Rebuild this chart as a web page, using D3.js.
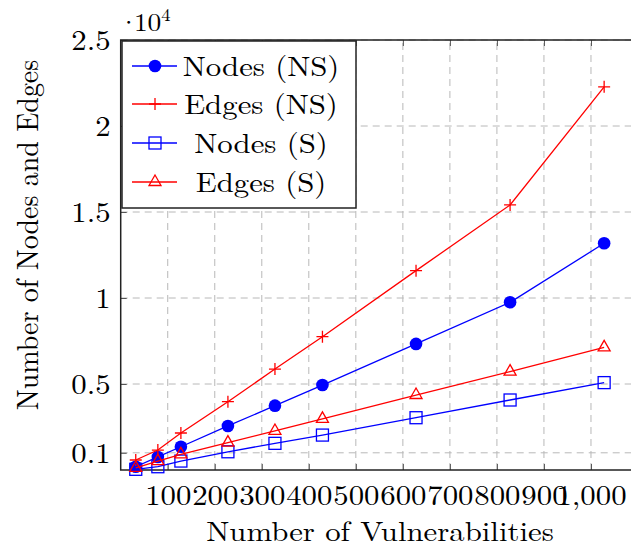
<!DOCTYPE html>
<html>
<head>
<meta charset="utf-8">
<script src="https://cdn.jsdelivr.net/npm/d3@7"></script>
<style>
  body { margin: 0; background: #fff; }
</style>
</head>
<body>
<svg id="chart" width="631" height="550"></svg>
<script>
// data
const vulns   = [32, 79, 128, 228, 328, 429, 628, 828, 1028];
const nodesNS = [190, 760, 1350, 2560, 3740, 4940, 7330, 9750, 13180];
const edgesNS = [580, 1160, 2150, 3970, 5870, 7750, 11590, 15410, 22280];
const nodesS  = [40, 190, 520, 1060, 1550, 2030, 3040, 4070, 5080];
const edgesS  = [120, 520, 910, 1590, 2270, 2970, 4360, 5720, 7130];

const xTicks = [100, 200, 300, 400, 500, 600, 700, 800, 900, 1000];
const xTickLabels = ['100', '200', '300', '400', '500', '600', '700', '800', '900', '1,000'];
const yTicks = [1000, 5000, 10000, 15000, 20000, 25000];
const yTickLabels = ['0.1', '0.5', '1', '1.5', '2', '2.5'];

const seriesNames = ['Nodes (NS)', 'Edges (NS)', 'Nodes (S)', 'Edges (S)'];
const seriesValues = [nodesNS, edgesNS, nodesS, edgesS];
const seriesColors = ['#0000ff', '#ff0000', '#0000ff', '#ff0000'];
const seriesMarks = ['circle', 'plus', 'square', 'triangle'];

const FONT = '"Latin Modern Roman", "Liberation Serif", serif';
const FS = 28;        // font size
const SX = 1.1;       // the reference is a bit wider than tall

const svg = d3.select('#chart');
const pLeft = 120.7, pRight = 638, pTop = 40, pBottom = 470;

const x = d3.scaleLinear().domain([0, 1100]).range([pLeft, pRight]);
const y = d3.scaleLinear().domain([0, 25000]).range([pBottom, pTop]);

// grid
const grid = svg.append('g').attr('stroke', '#b8b8b8').attr('stroke-width', 1)
  .attr('stroke-dasharray', '7,5').attr('fill', 'none');
grid.selectAll('.vg').data(xTicks).join('line')
  .attr('x1', d => x(d)).attr('x2', d => x(d)).attr('y1', pBottom).attr('y2', pTop);
grid.selectAll('.hg').data(yTicks).join('line')
  .attr('y1', d => y(d)).attr('y2', d => y(d)).attr('x1', pLeft).attr('x2', pRight);

// axes with inward ticks on all sides
const tickLen = 6;
const axisG = svg.append('g');
const xBottom = axisG.append('g').attr('transform', `translate(0,${pBottom})`)
  .call(d3.axisBottom(x).tickValues(xTicks).tickSize(-tickLen).tickFormat((d, i) => xTickLabels[i]));
axisG.append('g').attr('transform', `translate(0,${pTop})`)
  .call(d3.axisTop(x).tickValues(xTicks).tickSize(-tickLen).tickFormat(''));
const yLeft = axisG.append('g').attr('transform', `translate(${pLeft},0)`)
  .call(d3.axisLeft(y).tickValues(yTicks).tickSize(-tickLen).tickFormat((d, i) => yTickLabels[i]));
axisG.append('g').attr('transform', `translate(${pRight},0)`)
  .call(d3.axisRight(y).tickValues(yTicks).tickSize(-tickLen).tickFormat(''));

axisG.selectAll('.domain').remove();
axisG.selectAll('g').attr('font-family', FONT);
axisG.selectAll('.tick line').attr('stroke', '#555').attr('stroke-width', 1);
xBottom.selectAll('text').attr('font-size', FS).attr('y', 35).attr('dy', 0)
  .attr('transform', `scale(${SX},1)`)
  .attr('font-family', FONT).attr('fill', '#000');
yLeft.selectAll('text').attr('font-size', FS).attr('x', -10 / SX).attr('dy', '0.34em')
  .attr('transform', `scale(${SX},1)`)
  .attr('font-family', FONT).attr('fill', '#000');

svg.append('rect').attr('x', pLeft).attr('y', pTop)
  .attr('width', pRight - pLeft).attr('height', pBottom - pTop)
  .attr('fill', 'none').attr('stroke', '#222').attr('stroke-width', 1.5);

// marker drawing
function drawMark(g, kind, color) {
  if (kind === 'circle') {
    g.append('circle').attr('r', 6.3).attr('fill', color);
  } else if (kind === 'plus') {
    g.append('path').attr('d', 'M-6,0H6M0,-6V6').attr('stroke', color)
      .attr('stroke-width', 1.3).attr('fill', 'none');
  } else if (kind === 'square') {
    g.append('rect').attr('x', -6).attr('y', -6).attr('width', 12).attr('height', 12)
      .attr('stroke', color).attr('stroke-width', 1.3).attr('fill', 'none');
  } else {
    g.append('path').attr('d', 'M0,-7L6,3.5L-6,3.5Z').attr('stroke', color)
      .attr('stroke-width', 1.3).attr('fill', 'none');
  }
}

const line = d3.line().x(d => x(d[0])).y(d => y(d[1]));

seriesValues.forEach((vals, si) => {
  const pts = vulns.map((v, i) => [v, vals[i]]);
  const g = svg.append('g');
  g.append('path').datum(pts).attr('d', line)
    .attr('fill', 'none').attr('stroke', seriesColors[si]).attr('stroke-width', 1.3);
  g.selectAll('.m').data(pts).join('g')
    .attr('transform', d => `translate(${x(d[0])},${y(d[1])})`)
    .each(function () { drawMark(d3.select(this), seriesMarks[si], seriesColors[si]); });
});

// horizontally stretched text helper
function label(parent, tx, ty, str, size, anchor) {
  return parent.append('text')
    .attr('transform', `translate(${tx},${ty}) scale(${SX},1)`)
    .attr('text-anchor', anchor || 'middle')
    .attr('font-family', FONT).attr('font-size', size).text(str);
}

// legend
const lg = svg.append('g');
lg.append('rect').attr('x', 122).attr('y', 41).attr('width', 234).attr('height', 167)
  .attr('fill', '#fff').attr('stroke', '#222').attr('stroke-width', 1.5);
const rowY = [66, 104, 143, 182];
seriesNames.forEach((name, i) => {
  const row = lg.append('g').attr('transform', `translate(0,${rowY[i]})`);
  row.append('line').attr('x1', 132).attr('x2', 177).attr('y1', 0).attr('y2', 0)
    .attr('stroke', seriesColors[i]).attr('stroke-width', 1.3);
  drawMark(row.append('g').attr('transform', 'translate(155,0)'), seriesMarks[i], seriesColors[i]);
  label(row, 261, 0, name, FS).attr('dy', '0.35em');
});

// axis labels
label(svg, 380, 541, 'Number of Vulnerabilities', FS);
svg.append('text').attr('transform', `translate(38,235) scale(${SX},1) rotate(-90)`)
  .attr('text-anchor', 'middle').attr('font-family', FONT).attr('font-size', FS)
  .text('Number of Nodes and Edges');

// scale factor label
const sf = label(svg, 118, 31, '', 25, 'start');
sf.append('tspan').text('·');
sf.append('tspan').attr('dx', -5).text('10');
sf.append('tspan').attr('font-size', 17).attr('dy', -10).text('4');
</script>
</body>
</html>
